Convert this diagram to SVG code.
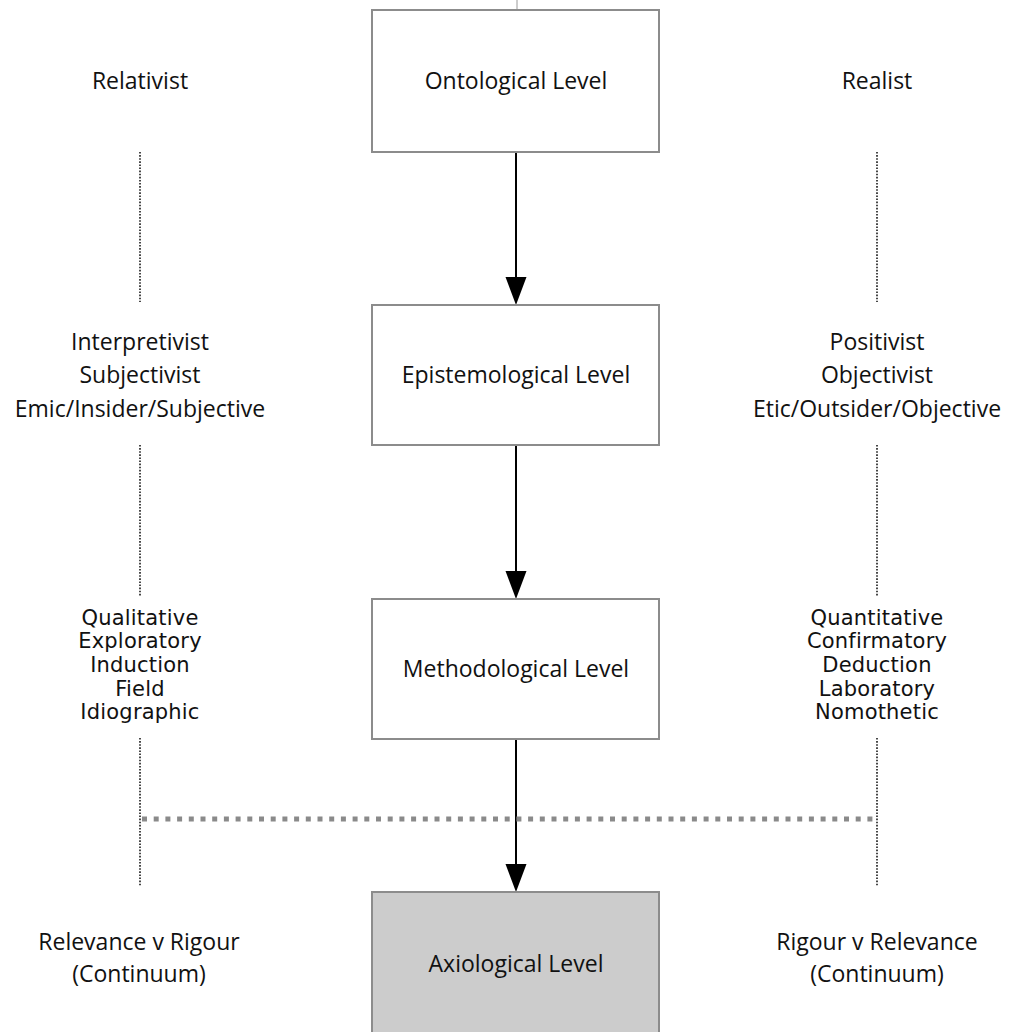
<svg xmlns="http://www.w3.org/2000/svg" width="1011" height="1032" viewBox="0 0 1011 1032">
  <defs>
    <style>
      .box { fill: #ffffff; stroke: #8c8c8c; stroke-width: 2; }
      .box.shaded { fill: #cccccc; }
      .label { font-family: "Open Sans", "Noto Sans", "Liberation Sans", sans-serif; font-size: 23px; fill: #111111; text-anchor: middle; }
      .small { font-family: "DejaVu Sans", Verdana, sans-serif; font-size: 21px; letter-spacing: 0.2px; fill: #111111; text-anchor: middle; }
      .flow { stroke: #000000; stroke-width: 2; fill: none; }
      .head { fill: #000000; }
      .dots { stroke: #1a1a1a; stroke-width: 1.6; stroke-dasharray: 1.6 1.5; fill: none; }
      .divider { stroke: #8a8a8a; stroke-width: 5; stroke-dasharray: 5 6.7; fill: none; }
    </style>
  </defs>
  <rect width="1011" height="1032" fill="#ffffff"/>

  <!-- connectors between the levels -->
  <g id="connectors">
    <line x1="517" y1="0" x2="517" y2="9" stroke="#9a9a9a" stroke-width="1"/>
    <line class="flow" x1="516" y1="152" x2="516" y2="280"/>
    <polygon class="head" points="505.5,277 526.5,277 516,305"/>
    <line class="flow" x1="516" y1="445" x2="516" y2="574"/>
    <polygon class="head" points="505.5,571 526.5,571 516,599"/>
    <line class="flow" x1="516" y1="739" x2="516" y2="867"/>
    <polygon class="head" points="505.5,864 526.5,864 516,892"/>
  </g>

  <!-- dotted continua on either side and the dashed divider -->
  <g id="guides">
    <line class="dots" x1="140" y1="152" x2="140" y2="302"/>
    <line class="dots" x1="140" y1="445" x2="140" y2="597"/>
    <line class="dots" x1="140" y1="738" x2="140" y2="886"/>
    <line class="dots" x1="877" y1="152" x2="877" y2="302"/>
    <line class="dots" x1="877" y1="445" x2="877" y2="597"/>
    <line class="dots" x1="877" y1="738" x2="877" y2="886"/>
    <line class="divider" x1="142" y1="819" x2="877" y2="819"/>
  </g>

  <g id="ontological">
    <rect class="box" x="372" y="10" width="287" height="142"/>
    <text class="label" x="516" y="89">Ontological Level</text>
  </g>
  <g id="epistemological">
    <rect class="box" x="372" y="305" width="287" height="140"/>
    <text class="label" x="516" y="383">Epistemological Level</text>
  </g>
  <g id="methodological">
    <rect class="box" x="372" y="599" width="287" height="140"/>
    <text class="label" x="516" y="677">Methodological Level</text>
  </g>
  <g id="axiological">
    <rect class="box shaded" x="372" y="892" width="287" height="150"/>
    <text class="label" x="516" y="972">Axiological Level</text>
  </g>

  <g id="relativist">
    <text class="label" x="140" y="89">Relativist</text>
  </g>
  <g id="realist">
    <text class="label" x="877" y="89">Realist</text>
  </g>

  <g id="interpretivist">
    <text class="label" x="140" y="350">Interpretivist</text>
    <text class="label" x="140" y="383">Subjectivist</text>
    <text class="label" x="140" y="417">Emic/Insider/Subjective</text>
  </g>
  <g id="positivist">
    <text class="label" x="877" y="350">Positivist</text>
    <text class="label" x="877" y="383">Objectivist</text>
    <text class="label" x="877" y="417">Etic/Outsider/Objective</text>
  </g>

  <g id="qualitative">
    <text class="small" x="140" y="625">Qualitative</text>
    <text class="small" x="140" y="648">Exploratory</text>
    <text class="small" x="140" y="672">Induction</text>
    <text class="small" x="140" y="696">Field</text>
    <text class="small" x="140" y="719">Idiographic</text>
  </g>
  <g id="quantitative">
    <text class="small" x="877" y="625">Quantitative</text>
    <text class="small" x="877" y="648">Confirmatory</text>
    <text class="small" x="877" y="672">Deduction</text>
    <text class="small" x="877" y="696">Laboratory</text>
    <text class="small" x="877" y="719">Nomothetic</text>
  </g>

  <g id="relevance-rigour">
    <text class="label" x="139" y="950">Relevance v Rigour</text>
    <text class="label" x="139" y="982">(Continuum)</text>
  </g>
  <g id="rigour-relevance">
    <text class="label" x="877" y="950">Rigour v Relevance</text>
    <text class="label" x="877" y="982">(Continuum)</text>
  </g>
</svg>
